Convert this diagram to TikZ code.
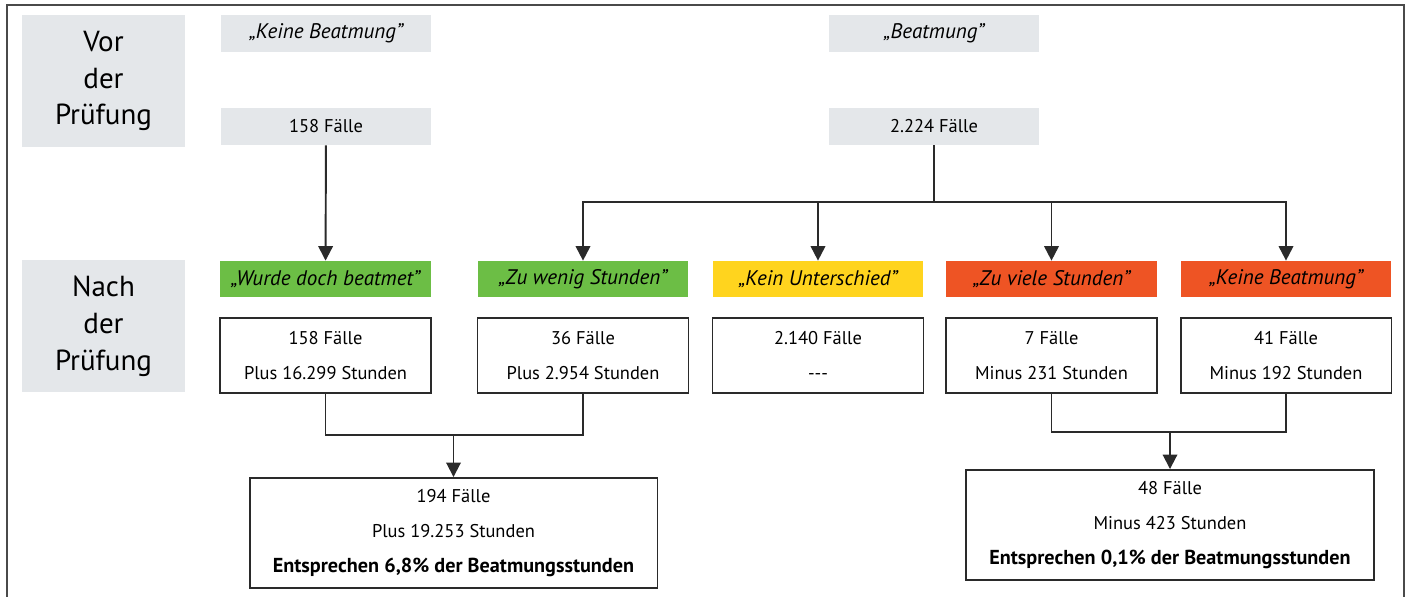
\documentclass[tikz,border=0pt]{standalone}
\usepackage{fontspec}
\setmainfont{PT Sans}
\usetikzlibrary{arrows.meta}
\definecolor{boxgray}{HTML}{E4E7EA}
\definecolor{okgreen}{HTML}{6CBE45}
\definecolor{sameyellow}{HTML}{FFD41E}
\definecolor{badred}{HTML}{EE5424}
\definecolor{inkgray}{HTML}{2A2A2A}

\begin{document}
\begin{tikzpicture}[
  x=0.02cm, y=-0.02cm,
  phase/.style={fill=boxgray, inner sep=0pt, minimum width=3.26cm, minimum height=2.64cm, align=center, font=\fontsize{16.5pt}{21pt}\selectfont},
  head/.style={fill=boxgray, inner sep=0pt, minimum width=4.22cm, minimum height=0.74cm, font=\fontsize{10.5pt}{12pt}\selectfont},
  quote/.style={font=\fontsize{12pt}{14pt}\selectfont\itshape},
  tag/.style={quote, inner sep=0pt, minimum width=4.22cm, minimum height=0.72cm},
  result/.style={draw=inkgray, line width=1.1pt, fill=white, inner sep=0pt, minimum width=4.22cm, minimum height=1.5cm, align=center, font=\fontsize{10.5pt}{20pt}\selectfont},
  total/.style={result, minimum width=8.16cm, minimum height=2.2cm},
  link/.style={draw=inkgray, line width=1.1pt},
  arr/.style={link, -{Triangle[width=0.29cm,length=0.29cm]}}
]
  % Rahmen, unten offen
  \useasboundingbox (0,0) rectangle (1410,597);
  \draw[draw=inkgray!85, line width=1.1pt] (7,600) |- (1404,5) -- (1404,600);

  % Vor der Pruefung
  \node[phase] (vor) at (103.5,81) {Vor\\der\\Prüfung};
  \node[head, quote] (keinevor) at (326,33.5) {„Keine Beatmung"};
  \node[head] (faelleA) at (326,126.5) {158 Fälle};
  \node[head, quote] (beatvor) at (934,33.5) {„Beatmung"};
  \node[head] (faelleB) at (934,126.5) {2.224 Fälle};

  % Nach der Pruefung
  \node[phase] (nach) at (103.5,326) {Nach\\der\\Prüfung};
  \node[tag, fill=okgreen]    (doch)    at (325.5,279) {„Wurde doch beatmet"};
  \node[tag, fill=okgreen]    (wenig)   at (583,279)   {„Zu wenig Stunden"};
  \node[tag, fill=sameyellow] (gleich)  at (818,279)   {„Kein Unterschied"};
  \node[tag, fill=badred]     (viele)   at (1051.5,279) {„Zu viele Stunden"};
  \node[tag, fill=badred]     (keine)   at (1286,279)  {„Keine Beatmung"};

  \node[result] (rdoch)   at (325.5,355.5)  {158 Fälle\\Plus 16.299 Stunden};
  \node[result] (rwenig)  at (583,355.5)    {36 Fälle\\Plus 2.954 Stunden};
  \node[result] (rgleich) at (818,355.5)    {2.140 Fälle\\-{}-{}-};
  \node[result] (rviele)  at (1051.5,355.5) {7 Fälle\\Minus 231 Stunden};
  \node[result] (rkeine)  at (1286,355.5)   {41 Fälle\\Minus 192 Stunden};

  \node[total] (plus)  at (453.5,533) {194 Fälle\\Plus 19.253 Stunden\\{\fontsize{11.5pt}{20pt}\selectfont\bfseries Entsprechen 6,8\% der Beatmungsstunden}};
  \node[total] (minus) at (1170,525)  {48 Fälle\\Minus 423 Stunden\\{\fontsize{11.5pt}{20pt}\selectfont\bfseries Entsprechen 0,1\% der Beatmungsstunden}};

  % Verbindungen
  \draw[arr] (faelleA) -- (doch);
  \coordinate (split) at (934,202);
  \draw[link] (faelleB) -- (split);
  \foreach \t in {wenig, gleich, viele, keine}
    \draw[arr] (split) -| (\t.north);

  \coordinate (mergeL) at (453.5,435);
  \draw[link] (rdoch) |- (mergeL);
  \draw[link] (rwenig) |- (mergeL);
  \draw[arr] (mergeL) -- (plus);

  \coordinate (mergeR) at (1170,432);
  \draw[link] (rviele) |- (mergeR);
  \draw[link] (rkeine) |- (mergeR);
  \draw[arr] (mergeR) -- (minus);
\end{tikzpicture}
\end{document}
